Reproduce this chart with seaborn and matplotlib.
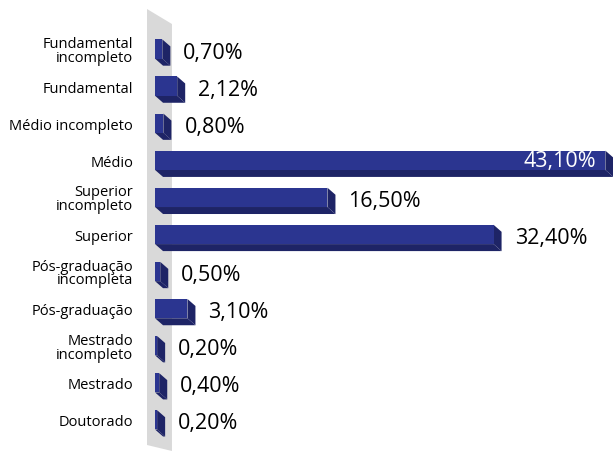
import matplotlib
matplotlib.use("Agg")
import matplotlib.pyplot as plt
import seaborn as sns
import pandas as pd
from matplotlib.patches import Polygon

# Data
categories = [
    "Fundamental\nincompleto", "Fundamental", "Médio incompleto", "Médio",
    "Superior\nincompleto", "Superior", "Pós-graduação\nincompleta",
    "Pós-graduação", "Mestrado\nincompleto", "Mestrado", "Doutorado",
]
values = [0.70, 2.12, 0.80, 43.10, 16.50, 32.40, 0.50, 3.10, 0.20, 0.40, 0.20]
value_labels = ["0,70%", "2,12%", "0,80%", "43,10%", "16,50%", "32,40%",
                "0,50%", "3,10%", "0,20%", "0,40%", "0,20%"]

df = pd.DataFrame({"cat": categories, "val": values})

sns.set_style("white")
plt.rcParams["font.family"] = ["Open Sans", "DejaVu Sans"]

front = "#2B3590"
side = "#1E2466"
wall = "#D9D9D9"

fig = plt.figure(figsize=(6.13, 4.52), dpi=100)
ax = fig.add_axes([147 / 613, 0, 466 / 613, 442 / 452])

sns.barplot(data=df, y="cat", x="val", orient="h", color=front,
            width=0.52, saturation=1, linewidth=0, edgecolor=front,
            ax=ax, zorder=3)
bars = list(ax.patches)

ax.set_xlim(-0.77, 43.83)
ax.set_ylim(10.84, -1.08)

# pixel -> data factors
px_x = (ax.get_xlim()[1] - ax.get_xlim()[0]) / 466
px_y = (ax.get_ylim()[0] - ax.get_ylim()[1]) / 442
dx, dy = 8 * px_x, 7 * px_y

# back wall
ax.add_patch(Polygon([(-0.77, 10.84 - 6 * px_y), (-0.77, -1.08),
                      (1.62, -1.08 + 15 * px_y), (1.62, 10.84)],
                     closed=True, facecolor=wall, edgecolor="none",
                     zorder=1, clip_on=False))

# 3D faces on bars
for p in bars:
    x0, w = p.get_x(), p.get_width()
    yt, h = p.get_y(), p.get_height()
    yb = yt + h
    x1 = x0 + w
    ax.add_patch(Polygon([(x0, yb), (x1, yb), (x1 + dx, yb + dy), (x0 + dx, yb + dy)],
                         closed=True, facecolor=side, edgecolor="none",
                         zorder=2.9, clip_on=False))
    ax.add_patch(Polygon([(x1, yt), (x1 + dx, yt + dy), (x1 + dx, yb + dy), (x1, yb)],
                         closed=True, facecolor=side, edgecolor="none",
                         zorder=2.9, clip_on=False))

# value labels
for i, (v, lab) in enumerate(zip(values, value_labels)):
    if v > 40:
        ax.text(v - 0.9, i, lab, ha="right", va="center", color="white",
                fontsize=15.5, zorder=5)
    else:
        ax.text(v + dx + 13 * px_x, i + 0.08, lab, ha="left", va="center",
                color="black", fontsize=15.5, zorder=5)

ax.set_xlabel("")
ax.set_ylabel("")
ax.set_xticks([])
ax.tick_params(axis="y", length=0, pad=10, labelsize=10.5, labelcolor="black")
for t in ax.get_yticklabels():
    t.set_linespacing(0.9)
for s in ax.spines.values():
    s.set_visible(False)

fig.savefig("out.png", dpi=100)
